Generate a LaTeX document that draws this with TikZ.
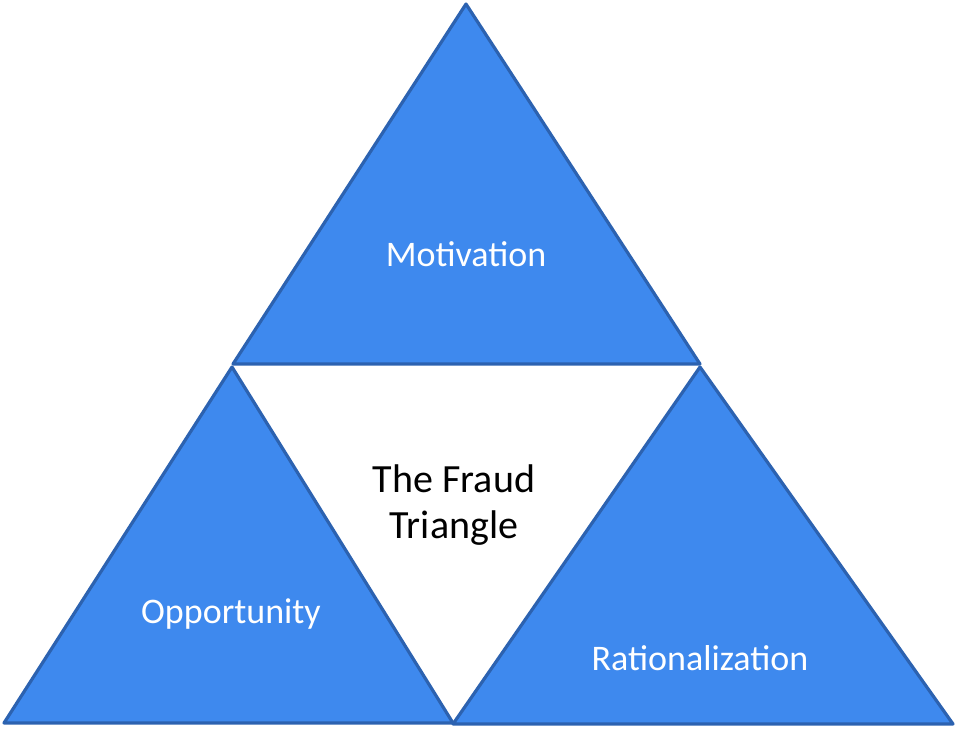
\documentclass[tikz,border=0pt]{standalone}
\usepackage{fontspec}
\setmainfont{Carlito}
\definecolor{tfill}{RGB}{62,137,238}
\definecolor{tedge}{RGB}{44,98,176}
\begin{document}
\begin{tikzpicture}[x=1pt,y=-1pt,
  tri/.style={fill=tfill,draw=tedge,line width=3.2pt,line join=round},
  lbl/.style={text=white,font=\fontsize{36}{43}\selectfont,inner sep=0pt},
  ctr/.style={text=black,font=\fontsize{40}{46}\selectfont,align=center,inner sep=0pt}]
\useasboundingbox (0,0) rectangle (958,729);
% top triangle
\draw[tri] (466,4) -- (700,364) -- (233,364) -- cycle;
% bottom-left triangle
\draw[tri] (232,367) -- (453,723) -- (4,723) -- cycle;
% bottom-right triangle
\draw[tri] (700,367) -- (953,724) -- (453,724) -- cycle;
\node[lbl] (mot) at (466,254) {Motivation};
\node[lbl] (opp) at (231,614) {Opportunity};
\node[lbl] (rat) at (700,658) {Rationalization};
\node[ctr] (ft) at (454,505) {The Fraud\\Triangle};
\end{tikzpicture}
\end{document}
